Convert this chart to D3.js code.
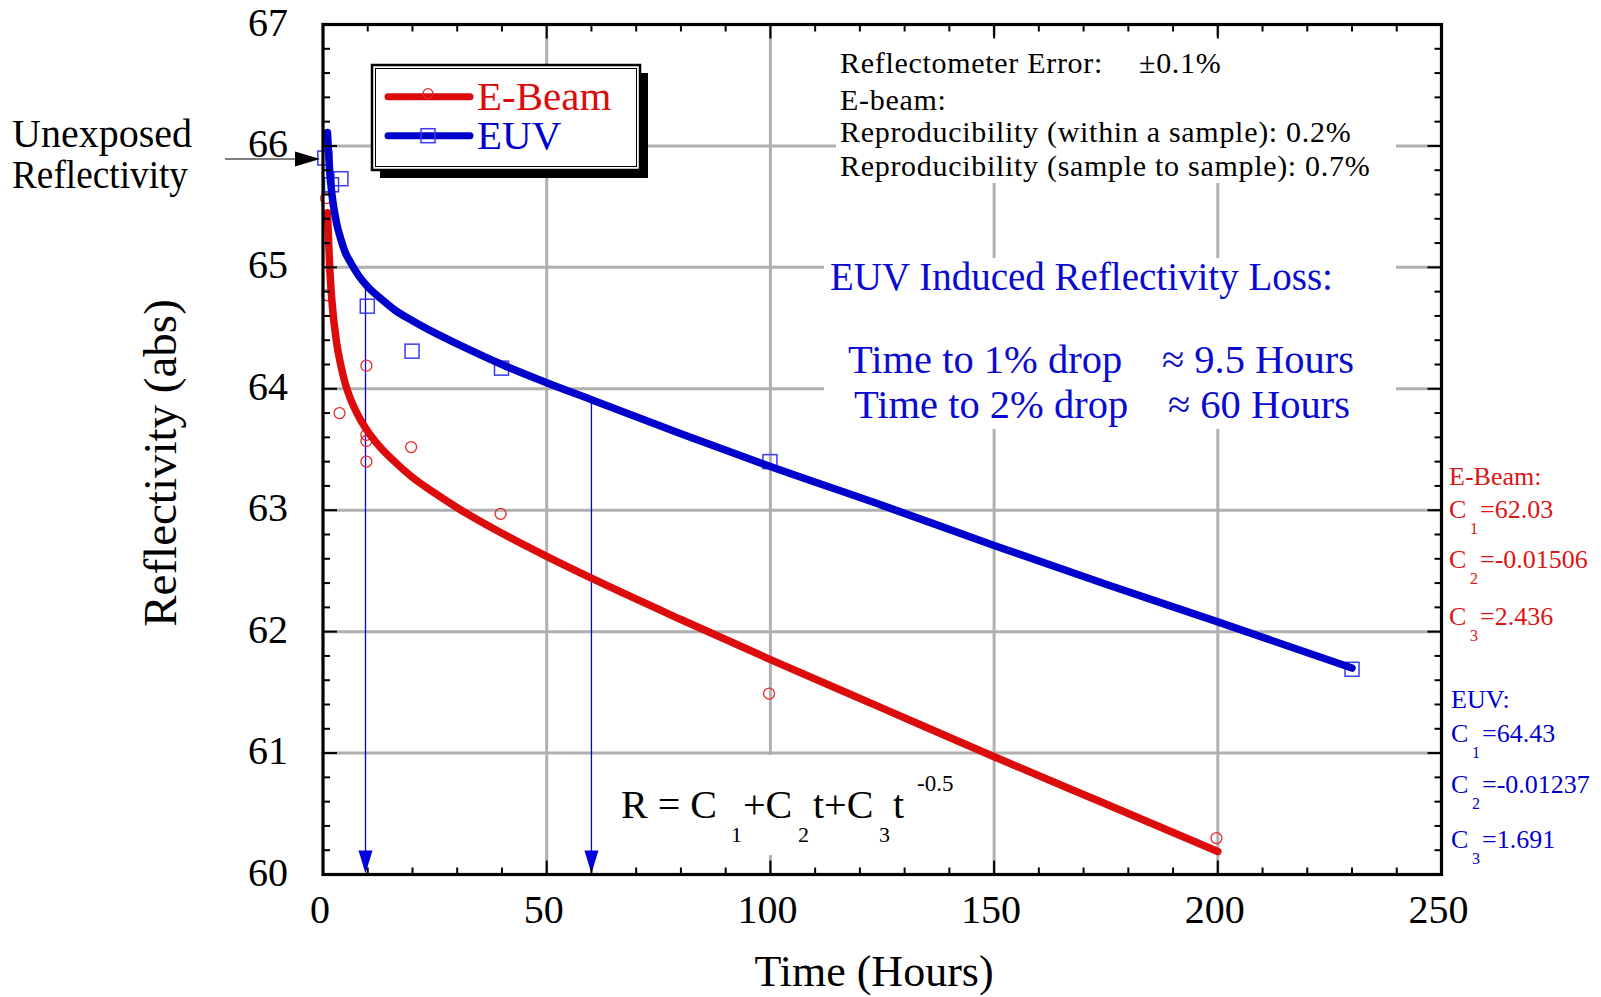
<!DOCTYPE html>
<html>
<head>
<meta charset="utf-8">
<script src="https://cdn.jsdelivr.net/npm/d3@7"></script>
<style>
  html, body { margin: 0; padding: 0; background: #fff; }
  svg { display: block; }
  text { font-family: "Liberation Serif", "Times New Roman", Times, serif; }
</style>
</head>
<body>
<svg id="chart" width="1601" height="997"></svg>
<script>
// ---- Data -------------------------------------------------------------
// Fitted reflectivity curves, R = C1 + C2 t + C3 t^-0.5, sampled in hours
const eBeamFitTimes  = [1, 1.5, 2, 3, 4, 5, 6, 8, 10, 13, 16, 20, 25, 30, 40, 50, 60, 80, 100, 125, 150, 175, 200];
const eBeamFitValues = [65.45, 65.00, 64.72, 64.39, 64.19, 64.04, 63.93, 63.77, 63.65, 63.51, 63.40, 63.27, 63.14, 63.02, 62.81, 62.62, 62.44, 62.10, 61.77, 61.37, 60.97, 60.58, 60.19];
const euvFitTimes    = [1, 1.5, 2, 3, 4, 5, 6, 8, 10, 13, 16, 20, 25, 30, 40, 50, 60, 80, 100, 125, 150, 175, 200, 230];
const euvFitValues   = [66.11, 65.79, 65.60, 65.37, 65.23, 65.12, 65.05, 64.93, 64.84, 64.74, 64.65, 64.56, 64.46, 64.37, 64.20, 64.05, 63.91, 63.63, 63.36, 63.04, 62.71, 62.39, 62.08, 61.70];

// Measured points
const eBeamTimes  = [0.7, 1.0, 3.7, 9.7, 9.7, 9.7, 9.7, 19.7, 39.7, 99.7, 199.7];
const eBeamValues = [65.57, 64.77, 63.80, 64.19, 63.62, 63.57, 63.40, 63.52, 62.97, 61.49, 60.30];
const euvTimes    = [0.4, 1.9, 4.0, 9.9, 19.9, 39.9, 99.9, 230];
const euvValues   = [65.90, 65.68, 65.73, 64.68, 64.31, 64.17, 63.40, 61.69];

// Times at which the EUV fit has dropped 1% and 2%
const dropTimes  = [9.5, 60];
const dropLevels = [64.86, 63.91];

// Axis ticks
const xTicks = [0, 50, 100, 150, 200, 250];
const yTicks = [60, 61, 62, 63, 64, 65, 66, 67];

// Fit coefficients shown beside the plot
const eBeamCoeffs = ["62.03", "-0.01506", "2.436"];
const euvCoeffs   = ["64.43", "-0.01237", "1.691"];

// ---- Setup ------------------------------------------------------------
const RED = "#dc0c0c", BLUE = "#0000cc";
const svg = d3.select("#chart");
const X0 = 323, X1 = 1441.5, Y0 = 874.5, Y1 = 24.5;
const x = d3.scaleLinear().domain([0, 250]).range([X0, X1]);
const y = d3.scaleLinear().domain([60, 67]).range([Y0, Y1]);

// ---- Grid -------------------------------------------------------------
const grid = svg.append("g").attr("stroke", "#b0b0b0").attr("stroke-width", 3);
grid.selectAll("line.v").data(xTicks.slice(1, -1)).join("line")
  .attr("x1", d => x(d)).attr("x2", d => x(d)).attr("y1", Y1).attr("y2", Y0);
grid.selectAll("line.h").data(yTicks.slice(1, -1)).join("line")
  .attr("y1", d => y(d)).attr("y2", d => y(d)).attr("x1", X0).attr("x2", X1);

// White panels behind the annotation text
const panels = svg.append("g").attr("fill", "#fff");
panels.append("rect").attr("x", 836).attr("y", 36).attr("width", 560).attr("height", 147);
panels.append("rect").attr("x", 824).attr("y", 258).attr("width", 572).attr("height", 171);
panels.append("rect").attr("x", 617).attr("y", 755).attr("width", 348).attr("height", 100);

// ---- Drop-time arrows ---------------------------------------------------
const drops = svg.append("g");
dropTimes.forEach((t, i) => {
  const px = x(t);
  drops.append("line").attr("x1", px).attr("x2", px)
    .attr("y1", y(dropLevels[i])).attr("y2", Y0 - 20)
    .attr("stroke", "#0000ff").attr("stroke-width", 1.3);
  drops.append("path")
    .attr("d", `M${px - 7},${Y0 - 24} L${px + 7},${Y0 - 24} L${px},${Y0 - 1} Z`)
    .attr("fill", "#0000e0");
});

// ---- Markers ------------------------------------------------------------
const eBeamPts = eBeamTimes.map((t, i) => [t, eBeamValues[i]]);
const euvPts = euvTimes.map((t, i) => [t, euvValues[i]]);

svg.append("g").selectAll("circle").data(eBeamPts).join("circle")
  .attr("cx", d => x(d[0])).attr("cy", d => y(d[1])).attr("r", 5.5)
  .attr("fill", "none").attr("stroke", "#e62a2a").attr("stroke-width", 1.3);

svg.append("g").selectAll("rect").data(euvPts).join("rect")
  .attr("x", d => x(d[0]) - 7).attr("y", d => y(d[1]) - 7)
  .attr("width", 14).attr("height", 14)
  .attr("fill", "none").attr("stroke", "#3b3bf0").attr("stroke-width", 1.5);

// ---- Fit curves ---------------------------------------------------------
const line = d3.line().x(d => x(d[0])).y(d => y(d[1])).curve(d3.curveMonotoneX);
svg.append("path")
  .datum(eBeamFitTimes.map((t, i) => [t, eBeamFitValues[i]]))
  .attr("d", line).attr("fill", "none").attr("stroke", RED)
  .attr("stroke-width", 7.5).attr("stroke-linecap", "round").attr("stroke-linejoin", "round");
svg.append("path")
  .datum(euvFitTimes.map((t, i) => [t, euvFitValues[i]]))
  .attr("d", line).attr("fill", "none").attr("stroke", BLUE)
  .attr("stroke-width", 7.5).attr("stroke-linecap", "round").attr("stroke-linejoin", "round");

// ---- Frame and ticks ----------------------------------------------------
const axes = svg.append("g").attr("stroke", "#000");
const xMinor = x.ticks(25).filter(v => !xTicks.includes(v));
const yMinor = y.ticks(35).filter(v => !yTicks.some(t => Math.abs(t - v) < 1e-6));
const tickSet = (vals, len) => {
  vals.forEach(v => {
    axes.append("line").attr("x1", x(v)).attr("x2", x(v)).attr("y1", Y0).attr("y2", Y0 - len).attr("stroke-width", 2);
    axes.append("line").attr("x1", x(v)).attr("x2", x(v)).attr("y1", Y1).attr("y2", Y1 + len).attr("stroke-width", 2);
  });
};
tickSet(xTicks, 14);
tickSet(xMinor, 7);
const yTickSet = (vals, len) => {
  vals.forEach(v => {
    axes.append("line").attr("y1", y(v)).attr("y2", y(v)).attr("x1", X0).attr("x2", X0 + len).attr("stroke-width", 2);
    axes.append("line").attr("y1", y(v)).attr("y2", y(v)).attr("x1", X1).attr("x2", X1 - len).attr("stroke-width", 2);
  });
};
yTickSet(yTicks, 14);
yTickSet(yMinor, 7);
axes.append("rect").attr("x", X0).attr("y", Y1).attr("width", X1 - X0).attr("height", Y0 - Y1)
  .attr("fill", "none").attr("stroke-width", 3.2);

// Tick labels
svg.append("g").selectAll("text").data(xTicks).join("text")
  .attr("x", d => x(d) - 3).attr("y", 923).attr("text-anchor", "middle")
  .attr("font-size", 40).text(d => d);
svg.append("g").selectAll("text").data(yTicks).join("text")
  .attr("x", 288).attr("y", d => y(d) + 11).attr("text-anchor", "end")
  .attr("font-size", 40).text(d => d);

// Axis titles
svg.append("text").attr("x", 874).attr("y", 986).attr("text-anchor", "middle")
  .attr("font-size", 44).text("Time (Hours)");
svg.append("text").attr("transform", "translate(176,463) rotate(-90)")
  .attr("text-anchor", "middle").attr("font-size", 47).text("Reflectivity (abs)");

// ---- Unexposed reflectivity pointer -------------------------------------
svg.append("text").attr("x", 12).attr("y", 147).attr("font-size", 40).text("Unexposed");
svg.append("text").attr("x", 12).attr("y", 188).attr("font-size", 40)
  .attr("textLength", 176).attr("lengthAdjust", "spacingAndGlyphs").text("Reflectivity");
svg.append("line").attr("x1", 225).attr("x2", 298).attr("y1", 159).attr("y2", 159)
  .attr("stroke", "#000").attr("stroke-width", 1.2);
svg.append("path").attr("d", "M295,151.5 L320,159 L295,166.5 Z").attr("fill", "#000");

// ---- Legend -------------------------------------------------------------
const lg = svg.append("g");
lg.append("rect").attr("x", 380).attr("y", 73).attr("width", 268).attr("height", 105).attr("fill", "#000");
lg.append("rect").attr("x", 372).attr("y", 65).attr("width", 268).attr("height", 105)
  .attr("fill", "#fff").attr("stroke", "#000").attr("stroke-width", 2.5);
lg.append("rect").attr("x", 375.5).attr("y", 68.5).attr("width", 261).attr("height", 98)
  .attr("fill", "none").attr("stroke", "#000").attr("stroke-width", 1);
const legendItems = [
  { name: "E-Beam", color: RED, y: 96.7, base: 110, marker: "circle" },
  { name: "EUV", color: BLUE, y: 135.7, base: 149, marker: "square" }
];
legendItems.forEach(it => {
  lg.append("line").attr("x1", 388).attr("x2", 470).attr("y1", it.y).attr("y2", it.y)
    .attr("stroke", it.color).attr("stroke-width", 7).attr("stroke-linecap", "round");
  if (it.marker === "circle") {
    lg.append("circle").attr("cx", 428).attr("cy", it.y - 3).attr("r", 5)
      .attr("fill", "none").attr("stroke", "#e62a2a").attr("stroke-width", 1.3);
  } else {
    lg.append("rect").attr("x", 421).attr("y", it.y - 7).attr("width", 14).attr("height", 14)
      .attr("fill", "none").attr("stroke", "#3b3bf0").attr("stroke-width", 1.5);
  }
  lg.append("text").attr("x", 477).attr("y", it.base).attr("font-size", 41)
    .attr("fill", it.color).text(it.name);
});

// ---- Measurement notes --------------------------------------------------
const notes = svg.append("g").attr("font-size", 30).attr("fill", "#000").attr("letter-spacing", 0.7);
notes.append("text").attr("x", 840).attr("y", 73).text("Reflectometer Error:");
notes.append("text").attr("x", 1139).attr("y", 73).text("±0.1%");
notes.append("text").attr("x", 840).attr("y", 110).text("E-beam:");
notes.append("text").attr("x", 840).attr("y", 142).text("Reproducibility (within a sample): 0.2%");
notes.append("text").attr("x", 840).attr("y", 176).text("Reproducibility (sample to sample): 0.7%");

const loss = svg.append("g").attr("fill", "#0a0ad0");
loss.append("text").attr("x", 830).attr("y", 290).attr("font-size", 39).text("EUV Induced Reflectivity Loss:");
loss.append("text").attr("x", 848).attr("y", 373).attr("font-size", 40.5).text("Time to 1% drop");
loss.append("text").attr("x", 1162).attr("y", 373).attr("font-size", 40.5).text("≈ " + dropTimes[0] + " Hours");
loss.append("text").attr("x", 854).attr("y", 418).attr("font-size", 40.5).text("Time to 2% drop");
loss.append("text").attr("x", 1168).attr("y", 418).attr("font-size", 40.5).text("≈ " + dropTimes[1] + " Hours");

// ---- Fit equation ---------------------------------------------------------
const eq = svg.append("g").attr("fill", "#000");
eq.append("text").attr("x", 621).attr("y", 818).attr("font-size", 40).text("R = C");
eq.append("text").attr("x", 731).attr("y", 842).attr("font-size", 22).text("1");
eq.append("text").attr("x", 743).attr("y", 818).attr("font-size", 40).text("+C");
eq.append("text").attr("x", 798).attr("y", 842).attr("font-size", 22).text("2");
eq.append("text").attr("x", 813).attr("y", 818).attr("font-size", 40).text("t+C");
eq.append("text").attr("x", 879).attr("y", 842).attr("font-size", 22).text("3");
eq.append("text").attr("x", 893).attr("y", 818).attr("font-size", 40).text("t");
eq.append("text").attr("x", 917).attr("y", 791).attr("font-size", 23).text("-0.5");

// ---- Coefficients ---------------------------------------------------------
function coeffBlock(title, coeffs, color, x0, titleY, rowYs) {
  const g = svg.append("g").attr("fill", color);
  g.append("text").attr("x", x0).attr("y", titleY).attr("font-size", 26).text(title);
  coeffs.forEach((c, i) => {
    g.append("text").attr("x", x0).attr("y", rowYs[i]).attr("font-size", 26).text("C");
    g.append("text").attr("x", x0 + 21).attr("y", rowYs[i] + 16).attr("font-size", 16).text(i + 1);
    g.append("text").attr("x", x0 + 31).attr("y", rowYs[i]).attr("font-size", 26).text("=" + c);
  });
}
coeffBlock("E-Beam:", eBeamCoeffs, "#dc1414", 1449, 485, [518, 568, 625]);
coeffBlock("EUV:", euvCoeffs, "#0000cc", 1451, 708, [742, 793, 848]);
</script>
</body>
</html>
